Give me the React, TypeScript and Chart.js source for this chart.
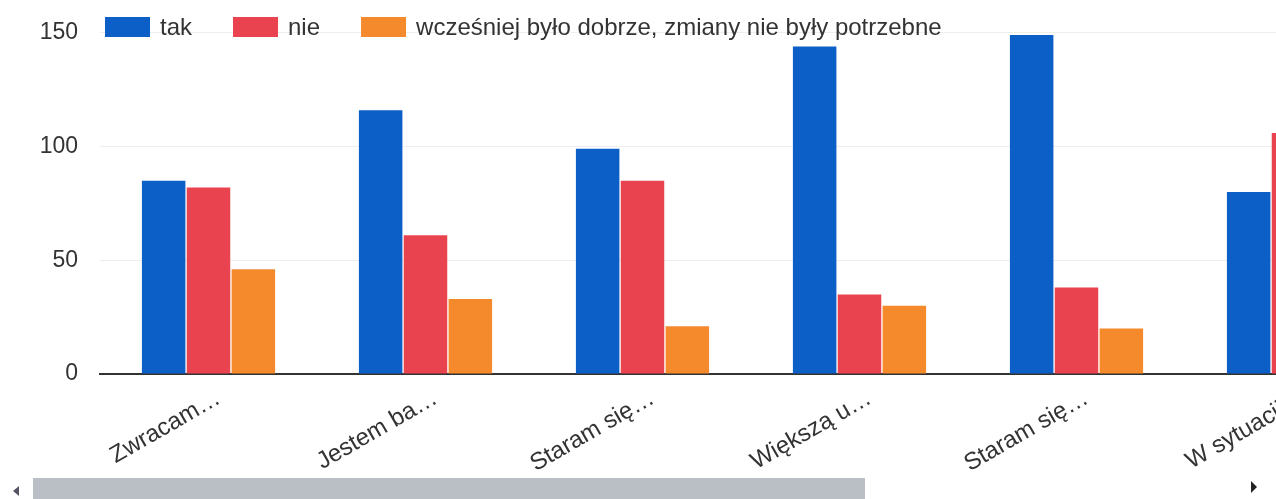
import React, { useEffect, useRef } from "react";
import { Chart, registerables } from "chart.js";

Chart.register(...registerables);

const categories = ["Zwracam…", "Jestem ba…", "Staram się…", "Większą u…", "Staram się…", "W sytuacji…"];
const seriesNames = ["tak", "nie", "wcześniej było dobrze, zmiany nie były potrzebne"];
const takValues = [85, 116, 99, 144, 149, 80];
const nieValues = [82, 61, 85, 35, 38, 106];
const wczesniejValues: (number | null)[] = [46, 33, 21, 30, 20, null];
const yTicks = [0, 50, 100, 150];
const colors = ["#0c5fc6", "#e9434f", "#f58a2c"];

const FONT = "'Liberation Sans', Arial, sans-serif";
const CANVAS_W = 1402;
const CANVAS_H = 473;
const SHIFT = 3;

const legendPlugin = {
  id: "topLegend",
  afterDraw(chart: any) {
    const ctx = chart.ctx;
    const ds = chart.data.datasets;
    ctx.save();
    ctx.font = `24px ${FONT}`;
    ctx.textBaseline = "middle";
    ctx.textAlign = "left";
    let x = chart.chartArea.left + 5;
    const cy = 27 + SHIFT;
    ds.forEach((d: any) => {
      ctx.fillStyle = d.backgroundColor;
      ctx.fillRect(x, cy - 10, 45, 20);
      x += 55;
      ctx.fillStyle = "#333";
      ctx.fillText(d.label, x, cy + 1);
      x += ctx.measureText(d.label).width + 41;
    });
    ctx.restore();
  },
};

export default function App() {
  const ref = useRef<HTMLCanvasElement>(null);
  useEffect(() => {
    if (!ref.current) return;
    const chart = new Chart(ref.current, {
      type: "bar",
      data: {
        labels: categories,
        datasets: [
          { label: seriesNames[0], data: takValues, backgroundColor: colors[0] },
          { label: seriesNames[1], data: nieValues, backgroundColor: colors[1] },
          { label: seriesNames[2], data: wczesniejValues, backgroundColor: colors[2] },
        ],
      },
      options: {
        responsive: false,
        animation: false,
        layout: { padding: { top: 29, left: 0, right: 0, bottom: 0 } },
        datasets: { bar: { categoryPercentage: 0.62, barPercentage: 0.97 } },
        plugins: { legend: { display: false }, tooltip: { enabled: false } },
        scales: {
          x: {
            grid: { display: false },
            border: { display: true, color: "#333", width: 2 },
            ticks: {
              color: "#333",
              font: { family: FONT, size: 24 },
              minRotation: 30,
              maxRotation: 30,
              autoSkip: false,
              padding: 2,
              labelOffset: 10,
            },
            afterFit: (s: any) => {
              s.height = CANVAS_H - (374 + SHIFT);
            },
          },
          y: {
            min: 0,
            max: 150,
            afterBuildTicks: (s: any) => {
              s.ticks = yTicks.map((v) => ({ value: v }));
            },
            grid: { color: "#eeeeee", drawTicks: false, lineWidth: 1 },
            border: { display: false },
            ticks: {
              color: "#333",
              font: { family: FONT, size: 23 },
              padding: 22,
            },
            afterFit: (s: any) => {
              s.width = 100;
            },
          },
        },
      },
      plugins: [legendPlugin],
    });
    return () => chart.destroy();
  }, []);

  return (
    <div
      style={{
        position: "absolute",
        left: 0,
        top: 0,
        width: 1276,
        height: 499,
        overflow: "hidden",
        background: "#fff",
      }}
    >
      <canvas
        ref={ref}
        width={CANVAS_W}
        height={CANVAS_H}
        style={{ position: "absolute", left: 0, top: -SHIFT, width: CANVAS_W, height: CANVAS_H }}
      />
      <div style={{ position: "absolute", left: 33, top: 478, width: 832, height: 21, background: "#babec5" }} />
      <div
        style={{
          position: "absolute",
          left: 13,
          top: 486,
          width: 0,
          height: 0,
          borderTop: "5px solid transparent",
          borderBottom: "5px solid transparent",
          borderRight: "6px solid #556",
        }}
      />
      <div
        style={{
          position: "absolute",
          left: 1251,
          top: 481,
          width: 0,
          height: 0,
          borderTop: "6px solid transparent",
          borderBottom: "6px solid transparent",
          borderLeft: "6px solid #222",
        }}
      />
    </div>
  );
}
